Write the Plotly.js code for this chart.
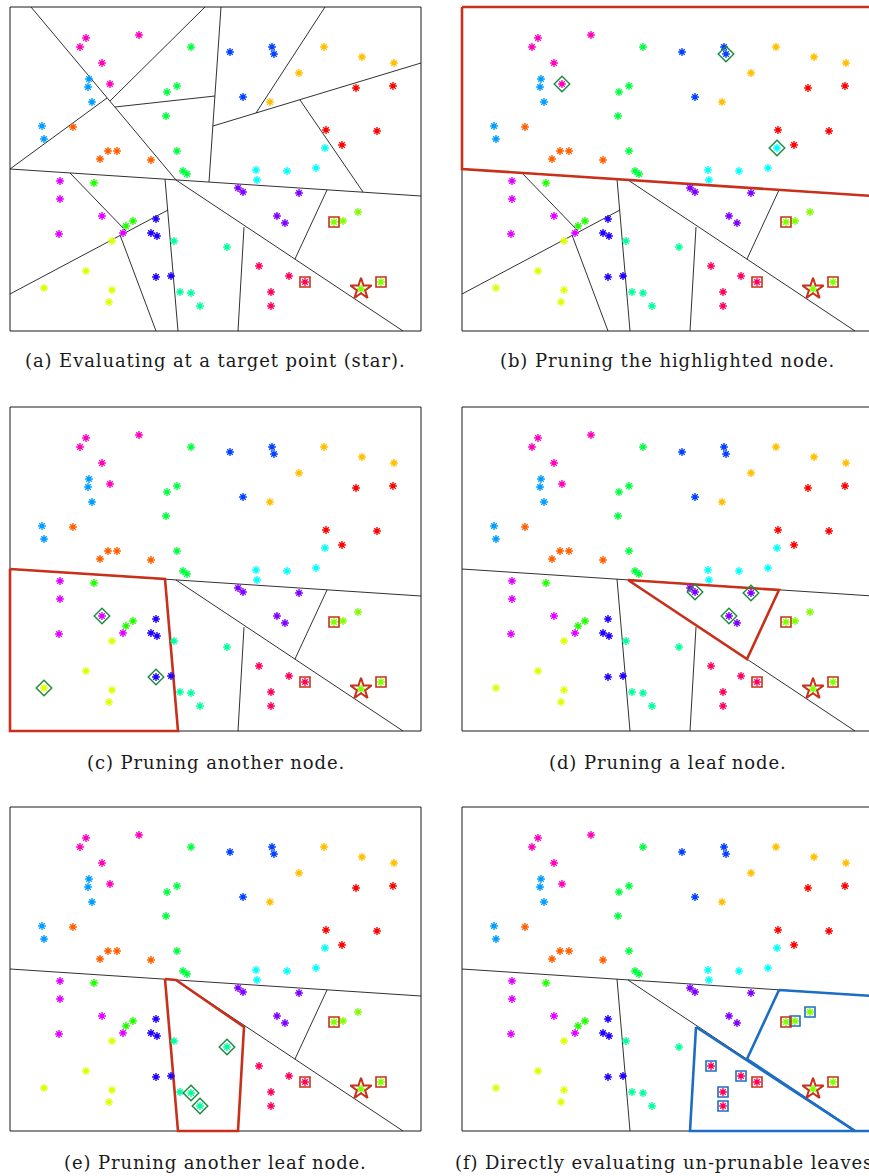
<!DOCTYPE html>
<html>
<head>
<meta charset="utf-8">
<script src="https://cdn.plot.ly/plotly-3.0.1.min.js"></script>
<style>
html,body{margin:0;padding:0;background:#fff;}
#chart{width:869px;height:1176px;}
.annotation-text{letter-spacing:0.9px;}
</style>
</head>
<body>
<div id="chart"></div>
<script>
// ---------- DATA (panel coordinates, same for all six panels) ----------
// sixteen point clusters
const redX = [356, 393, 326, 377, 342];           const redY = [88, 86, 130, 131, 145];
const orangeX = [73, 108, 117, 100, 151];          const orangeY = [127, 151, 151, 159, 160];
const amberX = [324, 362, 394, 299, 270];          const amberY = [47, 57, 63, 73, 102];
const yellowX = [112, 86, 44, 112, 109];           const yellowY = [241, 271, 288, 290, 302];
const chartreuseX = [334, 343, 358, 381];          const chartreuseY = [222, 221, 212, 282];
const limeX = [94, 126, 133];                      const limeY = [183, 226, 221];
const greenX = [191, 177, 167, 166, 177, 183, 187]; const greenY = [47, 86, 92, 116, 151, 171, 174];
const springX = [174, 180, 191, 200, 227];         const springY = [241, 292, 293, 306, 247];
const cyanX = [325, 256, 287, 316, 257];           const cyanY = [148, 170, 171, 168, 180];
const skyX = [89, 88, 92, 42, 44];                 const skyY = [79, 87, 102, 126, 139];
const blueX = [230, 272, 274, 243];                const blueY = [52, 47, 54, 97];
const indigoX = [156, 151, 157, 156, 171];         const indigoY = [219, 233, 236, 277, 276];
const purpleX = [238, 243, 299, 277, 285];         const purpleY = [188, 192, 193, 216, 223];
const violetX = [60, 60, 102, 59, 123];            const violetY = [181, 199, 216, 234, 233];
const magentaX = [86, 80, 139, 102, 110];          const magentaY = [38, 47, 35, 63, 84];
const roseX = [259, 289, 305, 271, 271];           const roseY = [266, 276, 282, 292, 306];

// target point (star) and its nearest neighbours (red squares)
const targetX = [361];            const targetY = [289];
const neighbourX = [334, 305, 381]; const neighbourY = [222, 282, 282];

// tree split segments
const splitX0 = [10, 31, 10, 110, 115, 221, 213, 325, 300, 70, 10, 120, 165, 176, 244, 327];
const splitY0 = [169, 7, 169, 101, 107, 7, 126, 7, 100, 173, 294, 235, 179, 180, 227, 190];
const splitX1 = [421, 176, 107, 205, 215, 209, 421, 256, 363, 126, 168, 156, 178, 403, 238, 295];
const splitY1 = [196, 180, 98, 7, 96, 182, 63, 113, 192, 231, 210, 331, 331, 331, 331, 259];

// frame of each panel
const frameX = [10, 421, 421, 10, 10];
const frameY = [7, 7, 331, 331, 7];

// highlighted cells
const cellTopX = [10, 421, 421, 10, 10];        const cellTopY = [7, 7, 196, 169, 7];
const cellLeftX = [10, 165, 178, 10, 10];       const cellLeftY = [169, 179, 331, 331, 169];
const leafAX = [176, 327, 295, 176];            const leafAY = [180, 190, 259, 180];
const leafBX = [165, 176, 244, 238, 178, 165];  const leafBY = [179, 180, 227, 331, 331, 179];
const leafCX = [244, 403, 238, 244];            const leafCY = [227, 331, 331, 227];
const leafDX = [327, 421, 421, 403, 295, 327];  const leafDY = [190, 196, 331, 331, 259, 190];

// points marked as pruned (diamonds) in panels b-e
const prunedBX = [110, 274, 325]; const prunedBY = [84, 54, 148];
const prunedCX = [102, 44, 156];  const prunedCY = [216, 288, 277];
const prunedDX = [243, 299, 277]; const prunedDY = [192, 193, 216];
const prunedEX = [227, 191, 200]; const prunedEY = [247, 293, 306];
// points evaluated directly (blue squares) in panel f
const directX = [259, 289, 271, 271, 343, 358]; const directY = [266, 276, 292, 306, 221, 212];

const captions = [
  '(a) Evaluating at a target point (star).',
  '(b) Pruning the highlighted node.',
  '(c) Pruning another node.',
  '(d) Pruning a leaf node.',
  '(e) Pruning another leaf node.',
  '(f) Directly evaluating un-prunable leaves.'
];

// ---------- STYLE ----------
const clusters = [
  [redX, redY, '#ff0000'], [orangeX, orangeY, '#ff6000'], [amberX, amberY, '#ffbf00'],
  [yellowX, yellowY, '#dfff00'], [chartreuseX, chartreuseY, '#80ff00'], [limeX, limeY, '#20ff00'],
  [greenX, greenY, '#00ff40'], [springX, springY, '#00ff9f'], [cyanX, cyanY, '#00ffff'],
  [skyX, skyY, '#009fff'], [blueX, blueY, '#0040ff'], [indigoX, indigoY, '#2000ff'],
  [purpleX, purpleY, '#8000ff'], [violetX, violetY, '#df00ff'], [magentaX, magentaY, '#ff00bf'],
  [roseX, roseY, '#ff0060']
];
const RED = '#c8301a', BLUE = '#1c6ec4', DGREEN = '#1a8c3c', LINE = '#1a1a1a';

const panels = [
  {black: [...Array(16).keys()], cells: [], cellColor: RED, diam: null, blueSq: false},
  {black: [0, 9, 10, 11, 12, 13, 14, 15], cells: [[cellTopX, cellTopY]], cellColor: RED, diam: [prunedBX, prunedBY]},
  {black: [0, 12, 13, 14, 15], cells: [[cellLeftX, cellLeftY]], cellColor: RED, diam: [prunedCX, prunedCY]},
  {black: [0, 12, 13, 14], cells: [[leafAX, leafAY]], cellColor: RED, diam: [prunedDX, prunedDY]},
  {black: [0, 13, 15], cells: [[leafBX, leafBY]], cellColor: RED, diam: [prunedEX, prunedEY]},
  {black: [0, 12, 13], cells: [[leafCX, leafCY], [leafDX, leafDY]], cellColor: BLUE, diam: null, blueSq: true}
];

const W = 869, H = 1176, PW = 411, PH = 324, PAD = 3;
const colX0 = [10, 462], rowY0 = [7, 407, 807];
const capY = [361, 762, 1162];

// flatten point clusters
const ptX = [], ptY = [], ptC = [];
clusters.forEach(c => c[0].forEach((v, i) => { ptX.push(v); ptY.push(c[1][i]); ptC.push(c[2]); }));

const traces = [];
const layout = {
  width: W, height: H, margin: {l: 0, r: 0, t: 0, b: 0},
  paper_bgcolor: '#ffffff', plot_bgcolor: 'rgba(0,0,0,0)',
  showlegend: false, annotations: []
};

panels.forEach((p, i) => {
  const col = i % 2, row = Math.floor(i / 2);
  const sfx = i === 0 ? '' : String(i + 1);
  const xa = 'x' + sfx, ya = 'y' + sfx;
  const leftPx = colX0[col] - PAD;
  const rightPx = Math.min(colX0[col] + PW + PAD, W);
  const topPx = rowY0[row] - PAD, botPx = rowY0[row] + PH + PAD;
  layout['xaxis' + sfx] = {
    domain: [leftPx / W, rightPx / W], range: [10 - PAD, 10 + (rightPx - colX0[col])],
    visible: false, anchor: ya, fixedrange: true
  };
  layout['yaxis' + sfx] = {
    domain: [1 - botPx / H, 1 - topPx / H], range: [7 + PH + PAD, 7 - PAD],
    visible: false, anchor: xa, fixedrange: true
  };

  // frame
  traces.push({x: frameX, y: frameY, xaxis: xa, yaxis: ya, mode: 'lines',
    line: {color: LINE, width: 1}, hoverinfo: 'skip'});
  // black split lines
  const sx = [], sy = [];
  p.black.forEach(k => { sx.push(splitX0[k], splitX1[k], null); sy.push(splitY0[k], splitY1[k], null); });
  traces.push({x: sx, y: sy, xaxis: xa, yaxis: ya, mode: 'lines',
    line: {color: LINE, width: 0.9}, hoverinfo: 'skip'});
  // highlighted cells
  p.cells.forEach(c => traces.push({x: c[0], y: c[1], xaxis: xa, yaxis: ya, mode: 'lines',
    line: {color: p.cellColor, width: 2.6}, hoverinfo: 'skip'}));
  // points
  traces.push({x: ptX, y: ptY, xaxis: xa, yaxis: ya, mode: 'markers', hoverinfo: 'skip',
    marker: {symbol: 'asterisk-open', size: 6.5, color: ptC, line: {color: ptC, width: 1.4}}});
  traces.push({x: targetX, y: targetY, xaxis: xa, yaxis: ya, mode: 'markers', hoverinfo: 'skip',
    marker: {symbol: 'asterisk-open', size: 6.5, color: '#80ff00', line: {color: '#80ff00', width: 1.4}}});
  // pruned diamonds
  if (p.diam) traces.push({x: p.diam[0], y: p.diam[1], xaxis: xa, yaxis: ya, mode: 'markers', hoverinfo: 'skip',
    marker: {symbol: 'diamond-open', size: 12, color: DGREEN, line: {color: DGREEN, width: 1.4}}});
  // directly evaluated (blue squares)
  if (p.blueSq) traces.push({x: directX, y: directY, xaxis: xa, yaxis: ya, mode: 'markers', hoverinfo: 'skip',
    marker: {symbol: 'square-open', size: 10, color: BLUE, line: {color: BLUE, width: 1.6}}});
  // neighbours (red squares)
  traces.push({x: neighbourX, y: neighbourY, xaxis: xa, yaxis: ya, mode: 'markers', hoverinfo: 'skip',
    marker: {symbol: 'square-open', size: 10, color: RED, line: {color: RED, width: 1.6}}});
  // target star
  traces.push({x: targetX, y: targetY, xaxis: xa, yaxis: ya, mode: 'markers', hoverinfo: 'skip',
    marker: {symbol: 'star-open', size: 16, color: RED, line: {color: RED, width: 2}}});

  layout.annotations.push({
    text: captions[i], xref: 'paper', yref: 'paper', showarrow: false,
    x: (colX0[col] + PW / 2) / W, y: 1 - capY[row] / H, xanchor: 'center', yanchor: 'middle',
    font: {family: 'DejaVu Serif, serif', size: 18, color: '#1a1a1a'}
  });
});

Plotly.newPlot('chart', traces, layout, {staticPlot: true, displayModeBar: false});
</script>
</body>
</html>
